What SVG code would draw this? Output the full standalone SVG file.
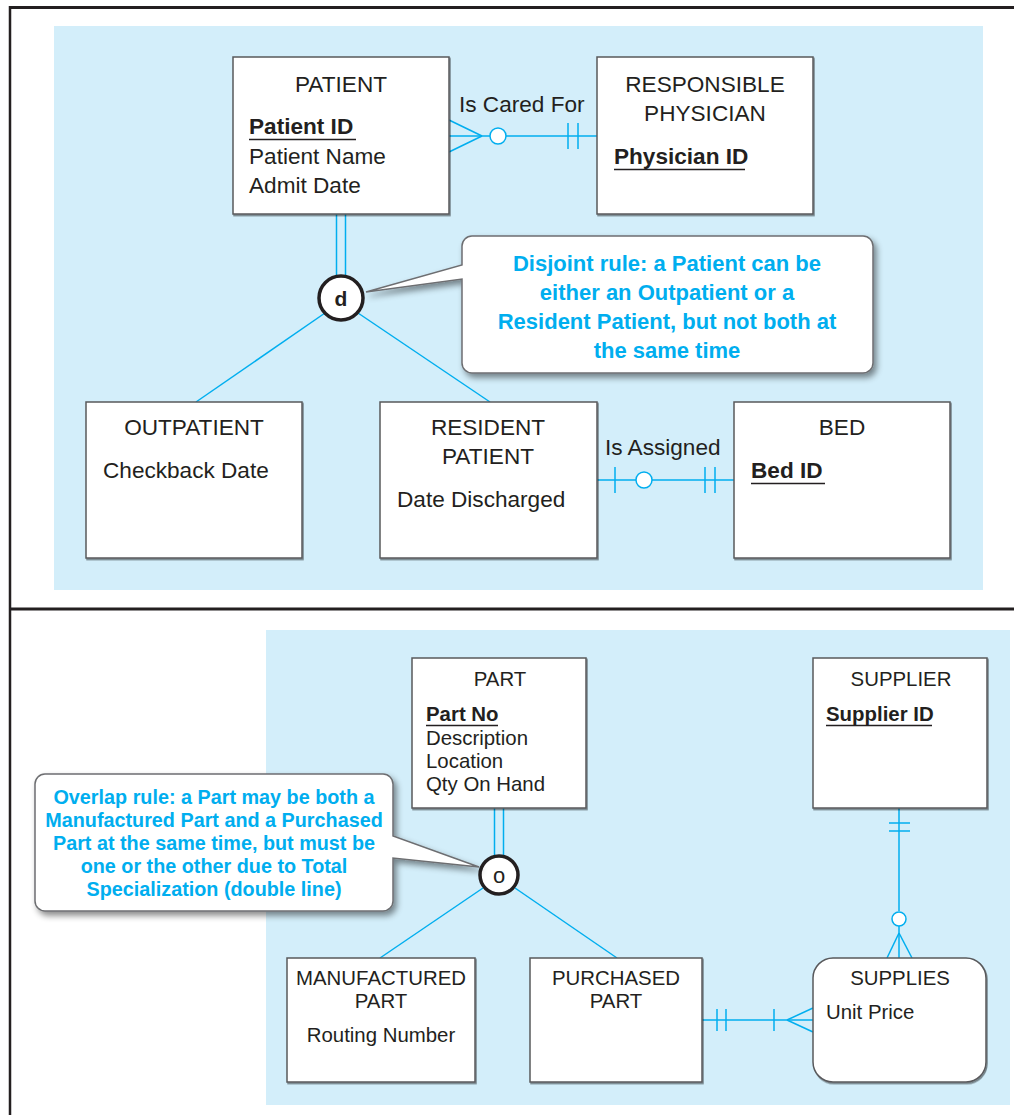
<svg xmlns="http://www.w3.org/2000/svg" width="1014" height="1115" viewBox="0 0 1014 1115">
<defs>
<style>
.t{font-family:"Liberation Sans",Arial,sans-serif;fill:#231f20;}
.t22{font-size:22.6px;}
.t20{font-size:20.4px;}
.b{font-weight:bold;}
.c{text-anchor:middle;}
.box{fill:#fff;stroke:#58595b;stroke-width:1.5;}
.ln{fill:none;stroke:#00aeef;stroke-width:1.5;}
.ci{fill:#fff;stroke:#00aeef;stroke-width:1.5;}
.call{fill:#fff;stroke:#6d6e71;stroke-width:1.5;}
.ct{font-family:"Liberation Sans",Arial,sans-serif;font-weight:bold;fill:#00aeef;text-anchor:middle;}
.ul{stroke:#231f20;stroke-width:1.3;}
.gc{fill:#fff;stroke:#231f20;stroke-width:3.5;}
</style>
<filter id="sh" x="-5%" y="-5%" width="115%" height="115%">
<feDropShadow dx="1" dy="1.5" stdDeviation="0.7" flood-color="#000" flood-opacity="0.45"/>
</filter>
<filter id="csh" x="-10%" y="-10%" width="125%" height="130%">
<feDropShadow dx="3" dy="4" stdDeviation="3" flood-color="#000" flood-opacity="0.45"/>
</filter>
</defs>
<rect x="0" y="0" width="1014" height="1115" fill="#fff"/>
<g id="frame" stroke="#231f20" fill="none">
<line x1="10" y1="7.5" x2="1014" y2="7.5" stroke-width="3"/>
<line x1="10" y1="6" x2="10" y2="1115" stroke-width="2.5"/>
<line x1="10" y1="609" x2="1014" y2="609" stroke-width="3"/>
</g>
<rect id="panel-top" x="54" y="26" width="929" height="564" fill="#d3eefa"/>
<rect id="panel-bottom" x="266" y="630" width="744" height="475" fill="#d3eefa"/>

<g id="connectors">
<line class="ln" x1="449" y1="136" x2="490" y2="136"/>
<line class="ln" x1="449" y1="120" x2="482" y2="136"/>
<line class="ln" x1="449" y1="152" x2="482" y2="136"/>
<circle class="ci" cx="498" cy="136" r="8"/>
<line class="ln" x1="506" y1="136" x2="597" y2="136"/>
<line class="ln" x1="568" y1="123" x2="568" y2="149"/>
<line class="ln" x1="578" y1="123" x2="578" y2="149"/>
<line class="ln" x1="336.5" y1="214" x2="336.5" y2="277"/>
<line class="ln" x1="345.5" y1="214" x2="345.5" y2="277"/>
<line class="ln" x1="325" y1="313" x2="196" y2="402"/>
<line class="ln" x1="358" y1="313" x2="490" y2="402"/>
<line class="ln" x1="597" y1="480" x2="636" y2="480"/>
<line class="ln" x1="615" y1="467" x2="615" y2="493"/>
<circle class="ci" cx="644" cy="480" r="8"/>
<line class="ln" x1="652" y1="480" x2="734" y2="480"/>
<line class="ln" x1="705" y1="467" x2="705" y2="493"/>
<line class="ln" x1="715" y1="467" x2="715" y2="493"/>
<line class="ln" x1="494.5" y1="808" x2="494.5" y2="856"/>
<line class="ln" x1="503.5" y1="808" x2="503.5" y2="856"/>
<line class="ln" x1="483" y1="888" x2="380" y2="958"/>
<line class="ln" x1="515" y1="888" x2="617" y2="958"/>
<line class="ln" x1="899" y1="808" x2="899" y2="911"/>
<line class="ln" x1="889" y1="823" x2="910" y2="823"/>
<line class="ln" x1="889" y1="831" x2="910" y2="831"/>
<circle class="ci" cx="899" cy="919" r="7"/>
<line class="ln" x1="899" y1="926" x2="899" y2="958"/>
<line class="ln" x1="899" y1="933" x2="887" y2="958"/>
<line class="ln" x1="899" y1="933" x2="912" y2="958"/>
<line class="ln" x1="702" y1="1020" x2="813" y2="1020"/>
<line class="ln" x1="717" y1="1009" x2="717" y2="1031"/>
<line class="ln" x1="726" y1="1009" x2="726" y2="1031"/>
<line class="ln" x1="774" y1="1009" x2="774" y2="1031"/>
<line class="ln" x1="787" y1="1020" x2="813" y2="1008"/>
<line class="ln" x1="787" y1="1020" x2="813" y2="1032"/>
</g>

<g id="patient">
<rect class="box" filter="url(#sh)" x="233" y="57" width="216" height="157"/>
<text class="t t22 c" x="341" y="92">PATIENT</text>
<text class="t t22 b" x="249" y="134">Patient ID</text>
<line class="ul" x1="249" y1="139.5" x2="356" y2="139.5"/>
<text class="t t22" x="249" y="164">Patient Name</text>
<text class="t t22" x="249" y="193">Admit Date</text>
</g>
<g id="responsible-physician">
<rect class="box" filter="url(#sh)" x="597" y="57" width="216" height="157"/>
<text class="t t22 c" x="705" y="92">RESPONSIBLE</text>
<text class="t t22 c" x="705" y="121">PHYSICIAN</text>
<text class="t t22 b" x="614" y="164">Physician ID</text>
<line class="ul" x1="614" y1="169.5" x2="745" y2="169.5"/>
</g>
<text class="t t22" x="459" y="112" font-size="23">Is Cared For</text>

<g id="disjoint">
<circle class="gc" cx="341" cy="298" r="22"/>
<text class="t b c" x="341" y="306" font-size="21">d</text>
</g>

<g id="callout-disjoint">
<path class="call" filter="url(#csh)" d="M472,236 H863 A10,10 0 0 1 873,246 V363 A10,10 0 0 1 863,373 H472 A10,10 0 0 1 462,363 V279 L366,292 L462,265 V246 A10,10 0 0 1 472,236 Z"/>
<text class="ct" font-size="22" x="667" y="271">Disjoint rule: a Patient can be</text>
<text class="ct" font-size="22" x="667" y="300">either an Outpatient or a</text>
<text class="ct" font-size="22" x="667" y="329">Resident Patient, but not both at</text>
<text class="ct" font-size="22" x="667" y="358">the same time</text>
</g>

<g id="outpatient">
<rect class="box" filter="url(#sh)" x="86" y="402" width="216" height="156"/>
<text class="t t22 c" x="194" y="435">OUTPATIENT</text>
<text class="t t22" x="103" y="478">Checkback Date</text>
</g>
<g id="resident-patient">
<rect class="box" filter="url(#sh)" x="380" y="402" width="217" height="156"/>
<text class="t t22 c" x="488" y="435">RESIDENT</text>
<text class="t t22 c" x="488" y="464">PATIENT</text>
<text class="t t22" x="397" y="507">Date Discharged</text>
</g>
<g id="bed">
<rect class="box" filter="url(#sh)" x="734" y="402" width="216" height="156"/>
<text class="t t22 c" x="842" y="435">BED</text>
<text class="t t22 b" x="751" y="478">Bed ID</text>
<line class="ul" x1="751" y1="483.5" x2="825" y2="483.5"/>
</g>
<text class="t t22" x="605" y="455">Is Assigned</text>

<g id="part">
<rect class="box" filter="url(#sh)" x="412" y="658" width="174" height="150"/>
<text class="t t20 c" x="500" y="686">PART</text>
<text class="t t20 b" x="426" y="721">Part No</text>
<line class="ul" x1="426" y1="725.5" x2="498" y2="725.5"/>
<text class="t t20" x="426" y="745">Description</text>
<text class="t t20" x="426" y="768">Location</text>
<text class="t t20" x="426" y="791">Qty On Hand</text>
</g>
<g id="supplier">
<rect class="box" filter="url(#sh)" x="813" y="658" width="174" height="150"/>
<text class="t t20 c" x="901" y="686">SUPPLIER</text>
<text class="t t20 b" x="826" y="721">Supplier ID</text>
<line class="ul" x1="826" y1="725.5" x2="932" y2="725.5"/>
</g>

<g id="overlap">
<circle class="gc" cx="499" cy="875" r="19"/>
<text class="t c" x="499" y="883" font-size="22">o</text>
</g>

<g id="callout-overlap">
<path class="call" filter="url(#csh)" d="M45,774 H383 A10,10 0 0 1 393,784 V836 L479,867 L393,858 V901 A10,10 0 0 1 383,911 H45 A10,10 0 0 1 35,901 V784 A10,10 0 0 1 45,774 Z"/>
<text class="ct" font-size="19.8" x="214" y="804">Overlap rule: a Part may be both a</text>
<text class="ct" font-size="19.8" x="214" y="827">Manufactured Part and a Purchased</text>
<text class="ct" font-size="19.8" x="214" y="850">Part at the same time, but must be</text>
<text class="ct" font-size="19.8" x="214" y="873">one or the other due to Total</text>
<text class="ct" font-size="19.8" x="214" y="896">Specialization (double line)</text>
</g>

<g id="manufactured-part">
<rect class="box" filter="url(#sh)" x="287" y="958" width="188" height="124"/>
<text class="t t20 c" x="381" y="985">MANUFACTURED</text>
<text class="t t20 c" x="381" y="1008">PART</text>
<text class="t t20 c" x="381" y="1042">Routing Number</text>
</g>
<g id="purchased-part">
<rect class="box" filter="url(#sh)" x="530" y="958" width="172" height="124"/>
<text class="t t20 c" x="616" y="985">PURCHASED</text>
<text class="t t20 c" x="616" y="1008">PART</text>
</g>
<g id="supplies">
<rect class="box" filter="url(#sh)" x="813" y="958" width="173" height="124" rx="20" ry="20"/>
<text class="t t20 c" x="900" y="985">SUPPLIES</text>
<text class="t t20" x="826" y="1019">Unit Price</text>
</g>
</svg>
